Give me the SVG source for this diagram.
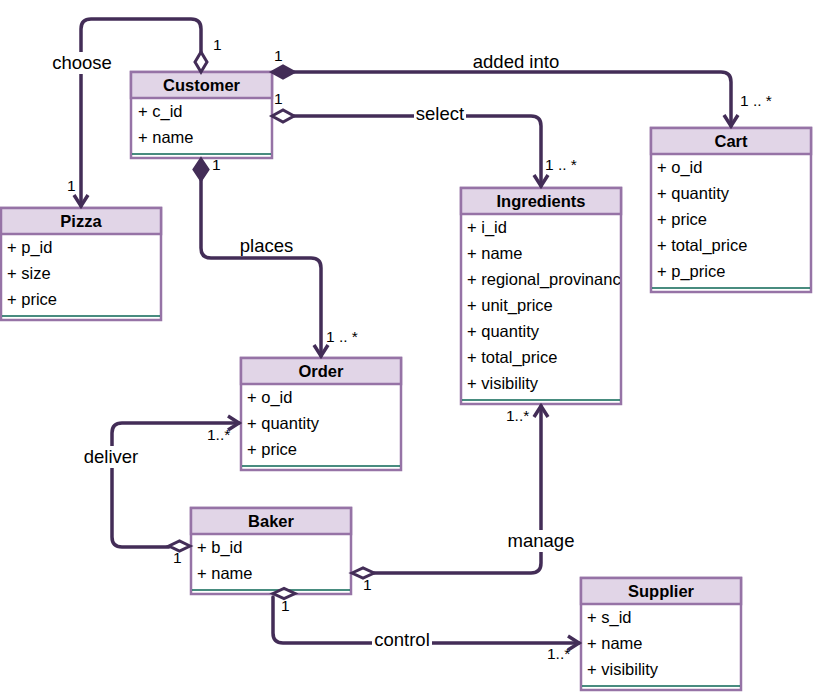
<svg xmlns="http://www.w3.org/2000/svg" width="814" height="692" viewBox="0 0 814 692">
<style>
.body{fill:#ffffff;stroke:#9673a6;stroke-width:2.5}
.head{fill:#e1d5e7;stroke:#9673a6;stroke-width:2.5}
.sep{stroke:#0b6655;stroke-width:1.5}
.title{font-family:"Liberation Sans",Arial,sans-serif;font-size:16.5px;font-weight:bold;text-anchor:middle;fill:#000}
.attr{font-family:"Liberation Sans",Arial,sans-serif;font-size:16.5px;fill:#000}
.edge{fill:none;stroke:#432d57;stroke-width:3.5;stroke-linejoin:round;stroke-linecap:round}
.arr{fill:none;stroke:#432d57;stroke-width:3.5;stroke-linejoin:miter;stroke-linecap:butt}
.odia{fill:#ffffff;stroke:#432d57;stroke-width:3}
.fdia{fill:#432d57;stroke:#432d57;stroke-width:3}
.lbl{font-family:"Liberation Sans",Arial,sans-serif;font-size:18.5px;text-anchor:middle;fill:#000}
.end{font-family:"Liberation Sans",Arial,sans-serif;font-size:15.5px;fill:#000}
.bg{fill:#ffffff}
</style>
<defs>
<clipPath id="clipIng"><rect x="461" y="188" width="159" height="216"/></clipPath>
</defs>

<g id="Customer">
<rect class="body" x="131" y="72" width="141" height="86"/>
<rect class="head" x="131" y="72" width="141" height="26"/>
<line class="sep" x1="132" y1="154" x2="271" y2="154"/>
<text class="title" x="201.5" y="91">Customer</text>
<text class="attr" x="138" y="117">+ c_id</text>
<text class="attr" x="138" y="143">+ name</text>
</g>

<g id="Pizza">
<rect class="body" x="1" y="208" width="160" height="112"/>
<rect class="head" x="1" y="208" width="160" height="26"/>
<line class="sep" x1="2" y1="316" x2="160" y2="316"/>
<text class="title" x="81" y="227">Pizza</text>
<text class="attr" x="7" y="253">+ p_id</text>
<text class="attr" x="7" y="279">+ size</text>
<text class="attr" x="7" y="305">+ price</text>
</g>

<g id="Cart">
<rect class="body" x="651" y="128" width="160" height="164"/>
<rect class="head" x="651" y="128" width="160" height="26"/>
<line class="sep" x1="652" y1="288" x2="810" y2="288"/>
<text class="title" x="731" y="147">Cart</text>
<text class="attr" x="657" y="173">+ o_id</text>
<text class="attr" x="657" y="199">+ quantity</text>
<text class="attr" x="657" y="225">+ price</text>
<text class="attr" x="657" y="251">+ total_price</text>
<text class="attr" x="657" y="277">+ p_price</text>
</g>

<g id="Ingredients">
<rect class="body" x="461" y="188" width="160" height="216"/>
<rect class="head" x="461" y="188" width="160" height="26"/>
<line class="sep" x1="462" y1="400" x2="620" y2="400"/>
<text class="title" x="541" y="207">Ingredients</text>
<g clip-path="url(#clipIng)">
<text class="attr" x="467" y="233">+ i_id</text>
<text class="attr" x="467" y="259">+ name</text>
<text class="attr" x="467" y="285">+ regional_provinance</text>
<text class="attr" x="467" y="311">+ unit_price</text>
<text class="attr" x="467" y="337">+ quantity</text>
<text class="attr" x="467" y="363">+ total_price</text>
<text class="attr" x="467" y="389">+ visibility</text>
</g>
</g>

<g id="Order">
<rect class="body" x="241" y="358" width="160" height="112"/>
<rect class="head" x="241" y="358" width="160" height="26"/>
<line class="sep" x1="242" y1="466" x2="400" y2="466"/>
<text class="title" x="321" y="377">Order</text>
<text class="attr" x="247" y="403">+ o_id</text>
<text class="attr" x="247" y="429">+ quantity</text>
<text class="attr" x="247" y="455">+ price</text>
</g>

<g id="Baker">
<rect class="body" x="191" y="508" width="160" height="86"/>
<rect class="head" x="191" y="508" width="160" height="26"/>
<line class="sep" x1="192" y1="590" x2="350" y2="590"/>
<text class="title" x="271" y="527">Baker</text>
<text class="attr" x="197" y="553">+ b_id</text>
<text class="attr" x="197" y="579">+ name</text>
</g>

<g id="Supplier">
<rect class="body" x="581" y="578" width="160" height="112"/>
<rect class="head" x="581" y="578" width="160" height="26"/>
<line class="sep" x1="582" y1="686" x2="740" y2="686"/>
<text class="title" x="661" y="597">Supplier</text>
<text class="attr" x="587" y="623">+ s_id</text>
<text class="attr" x="587" y="649">+ name</text>
<text class="attr" x="587" y="675">+ visibility</text>
</g>

<g id="connectors">
<!-- choose -->
<path class="edge" d="M201,52 V29 Q201,19 191,19 H91 Q81,19 81,29 V206"/>
<path class="arr" d="M74,195 L81,206 L88,195"/>
<polygon class="odia" points="201,72 207,62 201,52 195,62"/>
<rect class="bg" x="50" y="52" width="64" height="22"/>
<text class="lbl" x="82" y="68.5">choose</text>
<text class="end" x="213" y="50">1</text>
<text class="end" x="67" y="191">1</text>

<!-- added into -->
<path class="edge" d="M294,72 H721 Q731,72 731,82 V126"/>
<path class="arr" d="M724,115 L731,126 L738,115"/>
<polygon class="fdia" points="272,72 283,66 294,72 283,78"/>
<text class="lbl" x="516" y="68">added into</text>
<text class="end" x="274" y="61">1</text>
<text class="end" x="740" y="106">1 .. *</text>

<!-- select -->
<path class="edge" d="M294,116 H531 Q541,116 541,126 V186"/>
<path class="arr" d="M534,175 L541,186 L548,175"/>
<polygon class="odia" points="272,116 283,110 294,116 283,122"/>
<rect class="bg" x="414" y="104" width="52" height="20"/>
<text class="lbl" x="440" y="119.5">select</text>
<text class="end" x="274" y="104">1</text>
<text class="end" x="545" y="170">1 .. *</text>

<!-- places -->
<path class="edge" d="M201,180 V248 Q201,258 211,258 H311 Q321,258 321,268 V356"/>
<path class="arr" d="M314,345 L321,356 L328,345"/>
<polygon class="fdia" points="201,159 208,169.5 201,180 194,169.5"/>
<text class="lbl" x="266.5" y="252">places</text>
<text class="end" x="212" y="170">1</text>
<text class="end" x="326" y="342">1 .. *</text>

<!-- deliver -->
<path class="edge" d="M169,547 H122 Q112,547 112,537 V433 Q112,423 122,423 H239"/>
<path class="arr" d="M228,416 L239,423 L228,430"/>
<polygon class="odia" points="190,546 179.5,541 169,546 179.5,551"/>
<rect class="bg" x="82" y="446" width="60" height="22"/>
<text class="lbl" x="111" y="463">deliver</text>
<text class="end" x="207" y="440">1..*</text>
<text class="end" x="173" y="563">1</text>

<!-- manage -->
<path class="edge" d="M374,573 H531 Q541,573 541,563 V406"/>
<path class="arr" d="M534,417 L541,406 L548,417"/>
<polygon class="odia" points="352,573 363,568 374,573 363,578"/>
<rect class="bg" x="506" y="530" width="72" height="22"/>
<text class="lbl" x="541" y="547">manage</text>
<text class="end" x="506" y="421">1..*</text>
<text class="end" x="363" y="590">1</text>

<!-- control -->
<path class="edge" d="M273,597 V633 Q273,643 283,643 H579"/>
<path class="arr" d="M568,636 L579,643 L568,650"/>
<polygon class="odia" points="273,593.5 284,588.5 295,593.5 284,598.5"/>
<rect class="bg" x="372" y="630" width="60" height="20"/>
<text class="lbl" x="402" y="646">control</text>
<text class="end" x="281" y="611">1</text>
<text class="end" x="547" y="659">1..*</text>
</g>
</svg>
